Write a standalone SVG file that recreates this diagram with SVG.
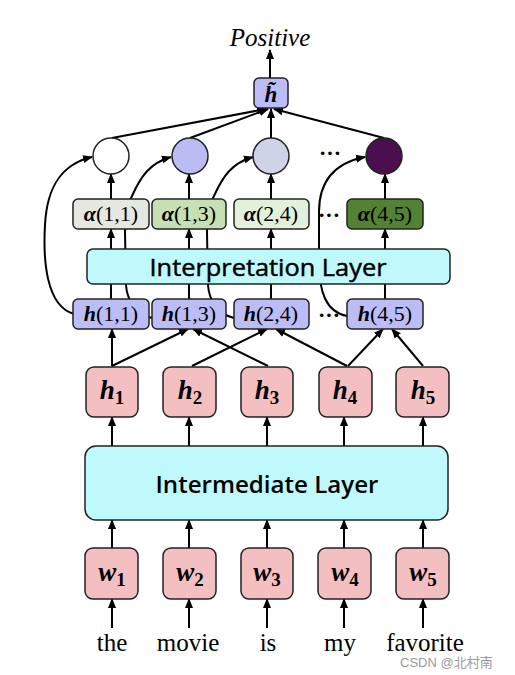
<svg xmlns="http://www.w3.org/2000/svg" width="515" height="675" viewBox="0 0 515 675">
<defs>
<marker id="arr" markerUnits="userSpaceOnUse" markerWidth="10" markerHeight="10" viewBox="0 0 10 10" refX="9" refY="5" orient="auto">
<path d="M0,1 L10,5 L0,9 z" fill="#000"/>
</marker>
<style>
.a{fill:none;stroke:#000;stroke-width:2;marker-end:url(#arr)}
.bx{stroke:#222;stroke-width:1.5}
.lav{fill:#bcbdf6}
.pink{fill:#f4bfc1}
.cyan{fill:#bff9fb}
.m{font-family:"Liberation Serif","DejaVu Serif",serif;fill:#000}
.bi{font-weight:bold;font-style:italic}
.sm{font-size:22px}
.sans{font-family:"Open Sans","Noto Sans","Liberation Sans",sans-serif;fill:#000}
.word{font-family:"Liberation Serif","Times New Roman",serif;font-size:25px;fill:#000;text-anchor:middle}
.dots{font-family:"Liberation Serif",serif;font-size:22px;font-weight:bold;text-anchor:middle}
</style>
</defs>
<g id="connectors">
<line class="a" x1="270" y1="78" x2="270" y2="50"/>
<line class="a" x1="112" y1="138" x2="266" y2="109"/>
<line class="a" x1="190" y1="138" x2="268" y2="109"/>
<line class="a" x1="271" y1="138" x2="271" y2="109"/>
<line class="a" x1="384" y1="138" x2="274" y2="109"/>
<line class="a" x1="111" y1="199" x2="111" y2="174"/>
<line class="a" x1="189" y1="199" x2="189" y2="174"/>
<line class="a" x1="271" y1="199" x2="271" y2="174"/>
<line class="a" x1="385" y1="199" x2="385" y2="174"/>
<line class="a" x1="111" y1="299" x2="111" y2="229"/>
<line class="a" x1="189" y1="299" x2="189" y2="229"/>
<line class="a" x1="271" y1="299" x2="271" y2="229"/>
<line class="a" x1="385" y1="299" x2="385" y2="229"/>
<path class="a" d="M74,314 C46,306 43,260 45,225 C47,186 62,164 92,157"/>
<path class="a" d="M152,318 C138,315 127,302 126,285 L125,232 C125,214 127,205 132,196 C141,176 150,163 171,157"/>
<path class="a" d="M234,318 C220,315 209,302 208,285 L207,232 C207,214 209,205 214,196 C223,176 232,163 253,157"/>
<path class="a" d="M347,316 C326,312 319,292 319,262 L319,212 C319,182 334,163 365,157"/>
<line class="a" x1="112" y1="366" x2="112" y2="329"/>
<line class="a" x1="112" y1="366" x2="188" y2="329"/>
<line class="a" x1="268" y1="366" x2="193" y2="329"/>
<line class="a" x1="192" y1="366" x2="267" y2="329"/>
<line class="a" x1="347" y1="366" x2="276" y2="329"/>
<line class="a" x1="348" y1="366" x2="383" y2="329"/>
<line class="a" x1="423" y1="366" x2="392" y2="329"/>
<line class="a" x1="112" y1="446" x2="112" y2="417"/>
<line class="a" x1="189" y1="446" x2="189" y2="417"/>
<line class="a" x1="267" y1="446" x2="267" y2="417"/>
<line class="a" x1="344" y1="446" x2="344" y2="417"/>
<line class="a" x1="423" y1="446" x2="423" y2="417"/>
<line class="a" x1="112" y1="548" x2="112" y2="520"/>
<line class="a" x1="189" y1="548" x2="189" y2="520"/>
<line class="a" x1="267" y1="548" x2="267" y2="520"/>
<line class="a" x1="344" y1="548" x2="344" y2="520"/>
<line class="a" x1="423" y1="548" x2="423" y2="520"/>
<line class="a" x1="112" y1="628" x2="112" y2="599"/>
<line class="a" x1="189" y1="628" x2="189" y2="599"/>
<line class="a" x1="267" y1="628" x2="267" y2="599"/>
<line class="a" x1="344" y1="628" x2="344" y2="599"/>
<line class="a" x1="423" y1="628" x2="423" y2="599"/>
</g>

<g id="positive"><text x="270" y="46" font-family="'Liberation Serif',serif" font-style="italic" font-size="25" text-anchor="middle">Positive</text></g>

<g id="htilde">
<rect class="bx lav" x="254" y="78" width="34" height="30" rx="5"/>
<text class="m bi" x="271" y="102" font-size="23" text-anchor="middle">h̃</text>
</g>

<g id="circle1"><circle cx="111" cy="156" r="18" fill="#ffffff" stroke="#222" stroke-width="1.5"/></g>
<g id="circle2"><circle cx="190" cy="156" r="18" fill="#babcf3" stroke="#222" stroke-width="1.5"/></g>
<g id="circle3"><circle cx="271" cy="156" r="18" fill="#cfd3e6" stroke="#222" stroke-width="1.5"/></g>
<g id="circle4"><circle cx="384" cy="156" r="18" fill="#4b0f4f" stroke="#222" stroke-width="1.5"/></g>
<g id="dots-top"><text class="dots" x="330" y="160">···</text></g>

<g id="alpha11"><rect class="bx" fill="#e5e8e0" x="73" y="199" width="76" height="30" rx="5"/>
<text class="m sm" x="111" y="221" text-anchor="middle"><tspan class="bi">α</tspan>(1,1)</text></g>
<g id="alpha13"><rect class="bx" fill="#c6e0b4" x="152" y="199" width="74" height="30" rx="5"/>
<text class="m sm" x="189" y="221" text-anchor="middle"><tspan class="bi">α</tspan>(1,3)</text></g>
<g id="alpha24"><rect class="bx" fill="#e3f0da" x="234" y="199" width="75" height="30" rx="5"/>
<text class="m sm" x="271" y="221" text-anchor="middle"><tspan class="bi">α</tspan>(2,4)</text></g>
<g id="dots-alpha"><text class="dots" x="329" y="222">···</text></g>
<g id="alpha45"><rect class="bx" fill="#548235" x="347" y="199" width="76" height="30" rx="5"/>
<text class="m sm" x="385" y="221" text-anchor="middle"><tspan class="bi">α</tspan>(4,5)</text></g>

<g id="interpretation"><rect class="bx cyan" x="87" y="249" width="363" height="35" rx="6"/>
<text class="sans" x="268" y="276" font-size="23" stroke="#000" stroke-width="0.45" text-anchor="middle" textLength="237" lengthAdjust="spacingAndGlyphs">Interpretation Layer</text></g>

<g id="h11"><rect class="bx lav" x="73" y="299" width="76" height="30" rx="5"/>
<text class="m sm" x="111" y="321" text-anchor="middle"><tspan class="bi">h</tspan>(1,1)</text></g>
<g id="h13"><rect class="bx lav" x="152" y="299" width="74" height="30" rx="5"/>
<text class="m sm" x="189" y="321" text-anchor="middle"><tspan class="bi">h</tspan>(1,3)</text></g>
<g id="h24"><rect class="bx lav" x="234" y="299" width="75" height="30" rx="5"/>
<text class="m sm" x="271" y="321" text-anchor="middle"><tspan class="bi">h</tspan>(2,4)</text></g>
<g id="dots-h"><text class="dots" x="329" y="322">···</text></g>
<g id="h45"><rect class="bx lav" x="347" y="299" width="76" height="30" rx="5"/>
<text class="m sm" x="385" y="321" text-anchor="middle"><tspan class="bi">h</tspan>(4,5)</text></g>

<g id="hid1"><rect class="bx pink" x="86" y="367" width="52" height="50" rx="8"/>
<text class="m" x="112" y="399" font-size="27" text-anchor="middle"><tspan class="bi">h</tspan><tspan font-size="19" font-weight="bold" dy="5">1</tspan></text></g>
<g id="hid2"><rect class="bx pink" x="163" y="367" width="53" height="50" rx="8"/>
<text class="m" x="190" y="399" font-size="27" text-anchor="middle"><tspan class="bi">h</tspan><tspan font-size="19" font-weight="bold" dy="5">2</tspan></text></g>
<g id="hid3"><rect class="bx pink" x="241" y="367" width="52" height="50" rx="8"/>
<text class="m" x="267" y="399" font-size="27" text-anchor="middle"><tspan class="bi">h</tspan><tspan font-size="19" font-weight="bold" dy="5">3</tspan></text></g>
<g id="hid4"><rect class="bx pink" x="319" y="367" width="53" height="50" rx="8"/>
<text class="m" x="345" y="399" font-size="27" text-anchor="middle"><tspan class="bi">h</tspan><tspan font-size="19" font-weight="bold" dy="5">4</tspan></text></g>
<g id="hid5"><rect class="bx pink" x="396" y="367" width="53" height="50" rx="8"/>
<text class="m" x="423" y="399" font-size="27" text-anchor="middle"><tspan class="bi">h</tspan><tspan font-size="19" font-weight="bold" dy="5">5</tspan></text></g>

<g id="intermediate"><rect class="bx cyan" x="85" y="446" width="363" height="74" rx="11"/>
<text class="sans" x="267" y="493" font-size="24" font-weight="600" text-anchor="middle" textLength="223" lengthAdjust="spacingAndGlyphs">Intermediate Layer</text></g>

<g id="w1"><rect class="bx pink" x="85" y="548" width="53" height="51" rx="8"/>
<text class="m" x="112" y="581" font-size="27" text-anchor="middle"><tspan class="bi">w</tspan><tspan font-size="19" font-weight="bold" dy="5">1</tspan></text></g>
<g id="w2"><rect class="bx pink" x="163" y="548" width="53" height="51" rx="8"/>
<text class="m" x="190" y="581" font-size="27" text-anchor="middle"><tspan class="bi">w</tspan><tspan font-size="19" font-weight="bold" dy="5">2</tspan></text></g>
<g id="w3"><rect class="bx pink" x="241" y="548" width="52" height="51" rx="8"/>
<text class="m" x="267" y="581" font-size="27" text-anchor="middle"><tspan class="bi">w</tspan><tspan font-size="19" font-weight="bold" dy="5">3</tspan></text></g>
<g id="w4"><rect class="bx pink" x="318" y="548" width="53" height="51" rx="8"/>
<text class="m" x="345" y="581" font-size="27" text-anchor="middle"><tspan class="bi">w</tspan><tspan font-size="19" font-weight="bold" dy="5">4</tspan></text></g>
<g id="w5"><rect class="bx pink" x="396" y="548" width="53" height="51" rx="8"/>
<text class="m" x="423" y="581" font-size="27" text-anchor="middle"><tspan class="bi">w</tspan><tspan font-size="19" font-weight="bold" dy="5">5</tspan></text></g>

<g id="words">
<text class="word" x="112" y="651">the</text>
<text class="word" x="188" y="651">movie</text>
<text class="word" x="268" y="651">is</text>
<text class="word" x="340" y="651">my</text>
<text class="word" x="425" y="651">favorite</text>
</g>
<g id="watermark"><text x="400" y="667" font-family="'Liberation Sans','Noto Sans CJK SC',sans-serif" font-size="13" fill="#9a9a9a">CSDN @北村南</text></g>
</svg>
